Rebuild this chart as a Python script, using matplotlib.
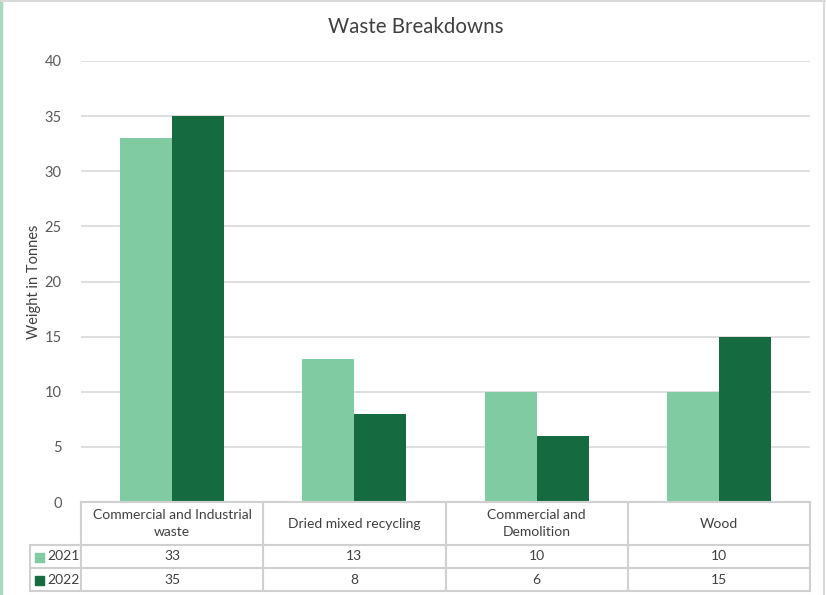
import matplotlib.pyplot as plt
import numpy as np
from matplotlib.patches import Rectangle
from matplotlib.lines import Line2D

categories = ["Commercial and Industrial\nwaste", "Dried mixed recycling",
              "Commercial and\nDemolition", "Wood"]
series = ["2021", "2022"]
vals_2021 = [33, 13, 10, 10]
vals_2022 = [35, 8, 6, 15]
colors = ["#80CBA1", "#156B3F"]

plt.rcParams['font.family'] = ['Lato', 'DejaVu Sans']
W, H = 826, 595
fig = plt.figure(figsize=(W / 100, H / 100), dpi=100)

def fx(px):
    return px / W

def fy(py):
    return 1 - py / H

# plot area in pixels
L, R, T, B = 81, 810, 61, 502
ax = fig.add_axes([fx(L), fy(B), fx(R - L), (B - T) / H])

x = np.arange(len(categories))
bw = 0.285
ax.bar(x - bw / 2, vals_2021, bw, color=colors[0], zorder=3)
ax.bar(x + bw / 2, vals_2022, bw, color=colors[1], zorder=3)

ax.set_xlim(-0.5, len(categories) - 0.5)
ax.set_ylim(0, 40)
ax.set_yticks(range(0, 41, 5))
ax.yaxis.grid(True, color="#d9d9d9", linewidth=1.2, zorder=0)
ax.set_xticks([])
for s in ax.spines.values():
    s.set_visible(False)
ax.tick_params(axis='y', length=0, labelsize=10.5, labelcolor="#595959", pad=14)
fig.text(fx(34), fy(282), "Weight in Tonnes", rotation=90, ha='center', va='center',
         fontsize=10.5, color="#404040")
fig.text(fx(416), fy(27), "Waste Breakdowns", ha='center', va='center',
         fontsize=14.8, color="#404040")

# data table under the axis
tc = "#d0d0d0"
tlw = 1.5
txt = "#404040"
hdr_b, r1_b, r2_b = 545, 568, 591
leg_l = 30
ncat = len(categories)
xs = [L + (R - L) * i / ncat for i in range(ncat + 1)]

def hline(x0, x1, y):
    fig.add_artist(Line2D([fx(x0), fx(x1)], [fy(y), fy(y)], color=tc, lw=tlw))

def vline(xp, y0, y1):
    fig.add_artist(Line2D([fx(xp), fx(xp)], [fy(y0), fy(y1)], color=tc, lw=tlw))

hline(L, R, B)
hline(leg_l, R, hdr_b)
hline(leg_l, R, r1_b)
hline(leg_l, R, r2_b)
for xp in xs:
    vline(xp, B, r2_b)
vline(leg_l, hdr_b, r2_b)

for i, cat in enumerate(categories):
    cx = (xs[i] + xs[i + 1]) / 2
    fig.text(fx(cx), fy((B + hdr_b) / 2), cat, ha='center', va='center',
             fontsize=10, color=txt, linespacing=1.5)
    fig.text(fx(cx), fy((hdr_b + r1_b) / 2), str(vals_2021[i]), ha='center',
             va='center', fontsize=10, color=txt)
    fig.text(fx(cx), fy((r1_b + r2_b) / 2), str(vals_2022[i]), ha='center',
             va='center', fontsize=10, color=txt)

for j, (name, y0, y1) in enumerate([(series[0], hdr_b, r1_b), (series[1], r1_b, r2_b)]):
    cy = (y0 + y1) / 2
    fig.add_artist(Rectangle((fx(35), fy(cy + 5)), fx(9), 9 / H, color=colors[j]))
    fig.text(fx(47), fy(cy), name, ha='left', va='center', fontsize=10, color=txt)

# outer frame of the chart
fig.add_artist(Line2D([fx(1), fx(1)], [0, 1], color="#a8d8bd", lw=2.5))
fig.add_artist(Line2D([0, 1], [fy(1), fy(1)], color="#d9d9d9", lw=1.5))
fig.add_artist(Line2D([fx(824), fx(824)], [0, 1], color="#d9d9d9", lw=1.5))

fig.savefig("out.png", dpi=100)
